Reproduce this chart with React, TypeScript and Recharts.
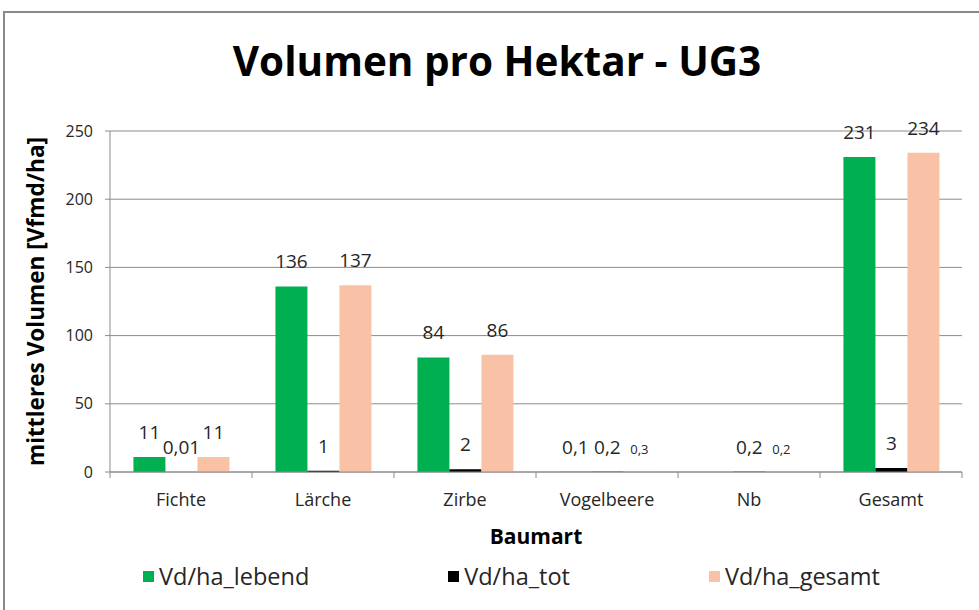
import { Bar, BarChart, CartesianGrid, Label, LabelList, Legend, XAxis, YAxis } from 'recharts'

const categories = ['Fichte', 'Lärche', 'Zirbe', 'Vogelbeere', 'Nb', 'Gesamt']
const lebend = [11, 136, 84, 0.1, null, 231]
const tot = [0.01, 1, 2, 0.2, 0.2, 3]
const gesamt = [11, 137, 86, 0.3, 0.2, 234]
const yTicks = [0, 50, 100, 150, 200, 250]

const series = [
  { key: 'lebend', name: 'Vd/ha_lebend', color: '#00B050' },
  { key: 'tot', name: 'Vd/ha_tot', color: '#000000' },
  { key: 'gesamt', name: 'Vd/ha_gesamt', color: '#F9C2A6' },
]

const data = categories.map((name, i) => ({
  name,
  lebend: lebend[i],
  tot: tot[i],
  gesamt: gesamt[i],
}))

const W = 979
const H = 610
const margin = { top: 131, right: 17, bottom: 66, left: 10 }
const Y_W = 100
const X_H = 72
const PLOT_W = W - margin.left - margin.right - Y_W
const BAND = PLOT_W / categories.length
const AXIS_Y = H - margin.bottom - X_H
const FONT = "'Open Sans', sans-serif"
const GRID = '#8c8c8c'
const TEXT = '#262626'

const fmt = (v: number) => v.toLocaleString('de-DE')

const makeLabel = (key: string) => (props: any) => {
  const { x, y, width, value } = props
  if (value === null || value === undefined) return null
  // Excel shrank the small gesamt labels
  const small = key === 'gesamt' && value < 1
  return (
    <text
      x={x + width / 2}
      y={y - 18}
      textAnchor="middle"
      fontFamily={FONT}
      fontSize={small ? 13 : 19}
      fill={TEXT}
    >
      {fmt(value)}
    </text>
  )
}

const XTick = (props: any) => {
  const { x, payload, index } = props
  const left = x - BAND / 2
  return (
    <g>
      <line x1={left} x2={left} y1={AXIS_Y} y2={AXIS_Y + 6} stroke={GRID} />
      {index === categories.length - 1 && (
        <line x1={left + BAND} x2={left + BAND} y1={AXIS_Y} y2={AXIS_Y + 6} stroke={GRID} />
      )}
      <text x={x} y={AXIS_Y + 34} textAnchor="middle" fontFamily={FONT} fontSize={18} fill={TEXT}>
        {payload.value}
      </text>
    </g>
  )
}

const LegendContent = () => (
  <div
    style={{
      display: 'flex',
      justifyContent: 'space-between',
      width: 737,
      marginLeft: 143,
      fontFamily: FONT,
      fontSize: 23.5,
      color: TEXT,
    }}
  >
    {series.map((s) => (
      <div key={s.key} style={{ display: 'flex', alignItems: 'center' }}>
        <span style={{ width: 11, height: 11, background: s.color, marginRight: 5, display: 'inline-block' }} />
        {s.name}
      </div>
    ))}
  </div>
)

export default function App() {
  return (
    <div style={{ position: 'fixed', left: 0, top: 0, width: W, height: H, background: '#fff', overflow: 'hidden' }}>
      <div
        style={{
          position: 'absolute',
          left: 3,
          top: 11,
          width: 1000,
          height: 700,
          border: '2px solid #898989',
        }}
      />
      <div
        style={{
          position: 'absolute',
          left: 0,
          top: 33,
          width: 994,
          textAlign: 'center',
          fontFamily: FONT,
          fontWeight: 700,
          fontSize: 40.5,
          color: '#000',
        }}
      >
        Volumen pro Hektar - UG3
      </div>
      <div style={{ position: 'absolute', left: 0, top: 0 }}>
        <BarChart
          width={W}
          height={H}
          data={data}
          margin={margin}
          barGap={0}
          barCategoryGap="16.5%"
        >
          <CartesianGrid vertical={false} stroke={GRID} />
          <XAxis
            dataKey="name"
            height={X_H}
            stroke={GRID}
            tickLine={false}
            tick={<XTick />}
            interval={0}
          >
            <Label
              value="Baumart"
              position="insideBottom"
              offset={0}
              style={{ fontFamily: FONT, fontWeight: 700, fontSize: 21, fill: '#000' }}
            />
          </XAxis>
          <YAxis
            width={Y_W}
            domain={[0, 250]}
            ticks={yTicks}
            stroke={GRID}
            tickSize={5}
            tickMargin={12}
            tick={{ fontFamily: FONT, fontSize: 16, fill: TEXT }}
          >
            <Label
              value="mittleres Volumen [Vfmd/ha]"
              angle={-90}
              position="insideLeft"
              offset={26}
              style={{ textAnchor: 'middle', fontFamily: FONT, fontWeight: 700, fontSize: 22.6, fill: '#000' }}
            />
          </YAxis>
          <Legend
            layout="horizontal"
            verticalAlign="middle"
            align="center"
            wrapperStyle={{ top: 560, left: 0, width: W }}
            content={<LegendContent />}
          />
          {series.map((s) => (
            <Bar key={s.key} dataKey={s.key} name={s.name} fill={s.color} isAnimationActive={false}>
              <LabelList dataKey={s.key} content={makeLabel(s.key)} />
            </Bar>
          ))}
        </BarChart>
      </div>
    </div>
  )
}
